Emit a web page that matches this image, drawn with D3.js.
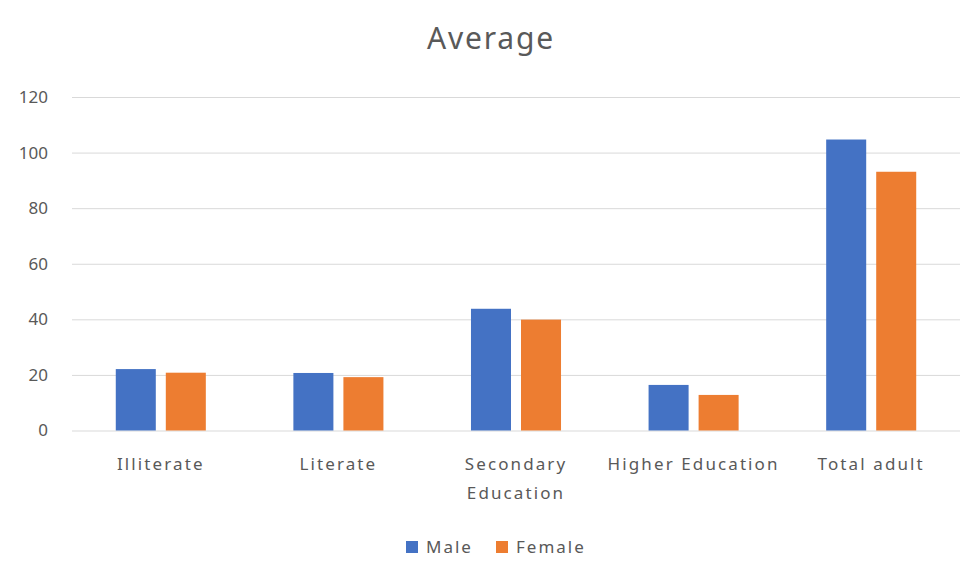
<!DOCTYPE html>
<html>
<head>
<meta charset="utf-8">
<script src="https://cdn.jsdelivr.net/npm/d3@7"></script>
<style>
  body { margin: 0; background: #fff; }
  svg text { font-family: "Noto Sans", sans-serif; fill: #595959; }
</style>
</head>
<body>
<svg id="chart" width="977" height="576"></svg>
<script>
// data
var categories = ["Illiterate", "Literate", "Secondary Education", "Higher Education", "Total adult"];
var seriesNames = ["Male", "Female"];
var male = [22.1, 20.7, 43.8, 16.4, 104.7];
var female = [20.8, 19.2, 39.9, 12.8, 93.1];
var yTicks = [0, 20, 40, 60, 80, 100, 120];
var colors = ["#4472c4", "#ed7d31"];

(function() {
  var svg = d3.select("#chart");
  var left = 72, right = 960, top = 97, bottom = 430.5;

  var rows = categories.map((c, i) => ({ name: c, values: [male[i], female[i]] }));

  var x0 = d3.scaleBand()
    .domain(categories)
    .range([left, right])
    .paddingInner(0.493)
    .paddingOuter(0.2465);

  var x1 = d3.scaleBand()
    .domain(seriesNames)
    .range([0, x0.bandwidth()])
    .paddingInner(0.2);

  var y = d3.scaleLinear()
    .domain([0, 120])
    .range([bottom, top]);

  // title
  svg.append("text")
    .attr("x", 491)
    .attr("y", 49)
    .attr("text-anchor", "middle")
    .style("font-size", "30px")
    .style("letter-spacing", "1.8px")
    .text("Average");

  // gridlines + y labels
  var yAxis = svg.append("g")
    .attr("transform", `translate(${left},0)`)
    .call(d3.axisLeft(y).tickValues(yTicks).tickSize(left - right).tickPadding(24));
  yAxis.select(".domain").remove();
  yAxis.selectAll(".tick line").attr("stroke", "#d9d9d9");
  yAxis.selectAll(".tick text")
    .attr("fill", "#595959")
    .style("font-size", "17px")
    .style("font-family", "Noto Sans, sans-serif");

  // bars
  var groups = svg.selectAll("g.cat")
    .data(rows)
    .enter()
    .append("g")
    .attr("class", "cat")
    .attr("transform", d => `translate(${x0(d.name)},0)`);

  groups.selectAll("rect")
    .data(d => d.values.map((v, i) => ({ key: seriesNames[i], value: v, i: i })))
    .enter()
    .append("rect")
    .attr("x", d => x1(d.key))
    .attr("y", d => y(d.value))
    .attr("width", x1.bandwidth())
    .attr("height", d => y(0) - y(d.value))
    .attr("fill", d => colors[d.i]);

  // category labels, wrapped to the band step
  var xAxis = svg.append("g")
    .attr("transform", `translate(0,${bottom})`)
    .call(d3.axisBottom(x0).tickSize(0).tickPadding(0));
  xAxis.select(".domain").remove();
  xAxis.selectAll(".tick text")
    .attr("fill", "#595959")
    .attr("dy", null)
    .attr("y", null)
    .style("font-size", "17px")
    .style("letter-spacing", "2.1px")
    .style("font-family", "Noto Sans, sans-serif")
    .each(function(d) {
      var t = d3.select(this);
      var words = d.split(" ");
      t.text(null);
      var line = [], lineNo = 0;
      var ts = t.append("tspan").attr("x", 0).attr("y", 39);
      words.forEach(w => {
        line.push(w);
        ts.text(line.join(" "));
        if (ts.node().getComputedTextLength() > x0.step() && line.length > 1) {
          line.pop();
          ts.text(line.join(" "));
          line = [w];
          lineNo++;
          ts = t.append("tspan").attr("x", 0).attr("y", 39 + lineNo * 29).text(w);
        }
      });
    });

  // legend
  var legend = svg.append("g").attr("transform", "translate(406,541)");
  var offsets = [0, 90];
  seriesNames.forEach((s, i) => {
    var g = legend.append("g").attr("transform", `translate(${offsets[i]},0)`);
    g.append("rect").attr("width", 12).attr("height", 12).attr("fill", colors[i]);
    g.append("text")
      .attr("x", 20)
      .attr("y", 12)
      .style("font-size", "17px")
      .style("letter-spacing", "2px")
      .text(s);
  });
})();
</script>
</body>
</html>
